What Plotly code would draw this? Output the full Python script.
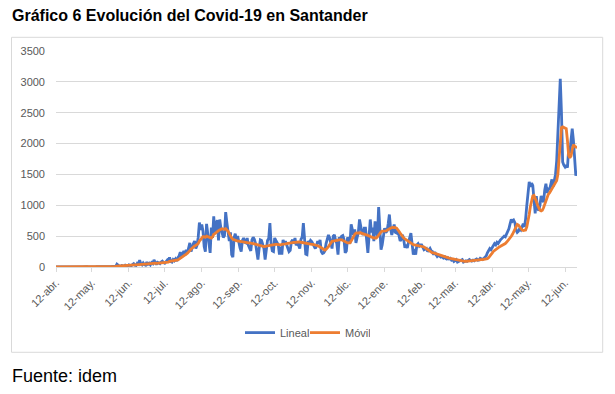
import pandas as pd
import plotly.graph_objects as go

start_date = "2020-04-12"

# Daily cases ("Lineal"), one row per week starting Sunday 12-abr-2020
lineal = [
    0, 1, 2, 0, 3, 1, 2,
    1, 0, 2, 3, 1, 4, 2,
    0, 2, 3, 1, 2, 5, 1,
    2, 1, 4, 3, 2, 6, 3,
    1, 3, 2, 5, 4, 2, 6,
    3, 2, 5, 4, 7, 3, 5,
    4, 6, 3, 8, 5, 10, 6,
    12, 8, 45, 20, 14, 10, 25,
    18, 12, 30, 22, 15, 35, 28,
    20, 40, 55, 30, 25, 60, 45,
    110, 50, 35, 65, 40, 30, 80,
    45, 60, 35, 70, 55, 115, 60,
    40, 75, 65, 55, 80, 95, 70,
    60, 85, 110, 75, 155, 90, 80,
    120, 100, 130, 95, 150, 180, 240,
    170, 210, 260, 190, 280, 230, 300,
    390, 250, 330, 380, 420, 300, 350,
    480, 720, 600, 690, 580, 330, 250,
    700, 520, 450, 230, 640, 470, 820,
    560, 690, 760, 430, 770, 630, 560,
    480, 510, 890, 720, 590, 420, 560,
    200, 160, 470, 540, 420, 500, 380,
    310, 250, 430, 470, 400, 390, 470,
    350, 300, 260, 440, 480, 450, 380,
    250, 120, 300, 440, 430, 380, 300,
    120, 280, 430, 460, 710, 380, 260,
    250, 470, 430, 400, 360, 200, 330,
    200, 440, 380, 420, 360, 300, 250,
    270, 410, 440, 380, 470, 350, 400,
    330, 300, 450, 480, 710, 400, 210,
    200, 420, 390, 430, 410, 380, 330,
    300, 340, 420, 380, 440, 250, 220,
    230, 260, 380, 440, 520, 470, 400,
    300, 500, 520, 430, 380, 200, 480,
    450, 500, 510, 450, 230, 260, 480,
    420, 380, 690, 600, 520, 610, 390,
    480, 560, 770, 630, 560, 520, 630,
    630, 420, 230, 500, 770, 560, 640,
    420, 740, 600, 500, 970, 600, 280,
    360, 520, 630, 560, 580, 700, 850,
    620, 520, 600, 690, 560, 550, 600,
    470, 420, 450, 520, 440, 310, 360,
    310, 400, 470, 550, 380, 200, 290,
    200, 360, 380, 340, 360, 360, 320,
    280, 290, 300, 250, 270, 300, 260,
    250, 200, 240, 200, 170, 190, 180,
    160, 170, 150, 180, 140, 130, 150,
    130, 140, 110, 120, 90, 110, 120,
    80, 90, 100, 110, 120, 80, 95,
    100, 90, 110, 120, 105, 95, 110,
    100, 120, 130, 110, 115, 140, 130,
    120, 140, 160, 180, 230, 260, 300,
    280, 320, 340, 380, 360, 400, 380,
    420, 440, 460, 480, 500, 490, 540,
    560, 620, 700, 770, 740, 760, 720,
    600, 560, 580, 620, 600, 650, 700,
    650, 780, 1000, 1250, 1380, 1300, 1360,
    1320, 1100, 870, 1150, 940, 920, 1000,
    1150, 1080, 1050, 1250, 1350, 1200, 1280,
    1250, 1360, 1420, 1300, 1400, 1500, 1720,
    2100, 2700, 3050, 2500, 1700, 1650, 1620,
    1650, 1610, 1900, 1850, 2050, 2240, 2050,
    1800, 1480, 1560,
]

# Moving-average series ("Móvil")
movil = [
    0, 0, 1, 1, 1, 1, 1,
    1, 1, 2, 2, 2, 2, 2,
    2, 2, 2, 2, 2, 2, 2,
    2, 3, 3, 3, 3, 3, 3,
    3, 3, 3, 3, 3, 3, 4,
    4, 4, 4, 4, 4, 5, 5,
    5, 5, 5, 6, 6, 6, 7,
    8, 9, 14, 16, 17, 18, 19,
    20, 19, 22, 22, 23, 24, 26,
    27, 30, 33, 34, 35, 38, 40,
    48, 48, 47, 48, 48, 47, 50,
    52, 55, 54, 56, 58, 62, 62,
    60, 62, 62, 60, 62, 66, 68,
    70, 72, 78, 80, 90, 92, 93,
    95, 100, 105, 110, 115, 128, 140,
    150, 165, 180, 195, 210, 225, 240,
    265, 290, 310, 320, 340, 350, 360,
    380, 420, 440, 470, 490, 490, 480,
    500, 495, 490, 475, 470, 490, 530,
    540, 560, 580, 590, 600, 610, 620,
    615, 610, 620, 600, 580, 540, 500,
    470, 450, 440, 430, 425, 420, 420,
    415, 410, 405, 400, 400, 395, 395,
    390, 390, 390, 385, 380, 375, 370,
    360, 350, 345, 340, 335, 330, 330,
    335, 335, 340, 345, 350, 355, 360,
    360, 360, 365, 365, 360, 360, 360,
    365, 365, 370, 375, 380, 385, 385,
    390, 390, 395, 400, 400, 405, 405,
    405, 405, 400, 400, 395, 390, 385,
    380, 375, 370, 370, 365, 365, 362,
    360, 355, 345, 335, 320, 305, 290,
    280, 275, 285, 300, 330, 360, 390,
    416, 420, 425, 430, 435, 440, 443,
    443, 440, 430, 420, 405, 395, 390,
    390, 390, 420, 460, 500, 530, 550,
    552, 555, 560, 555, 545, 535, 530,
    525, 520, 510, 500, 490, 480, 475,
    470, 470, 470, 490, 520, 550, 570,
    580, 578, 578, 585, 595, 610, 625,
    635, 640, 643, 643, 640, 630, 610,
    580, 550, 520, 495, 470, 455, 440,
    425, 410, 395, 380, 370, 362, 360,
    355, 350, 348, 345, 342, 340, 335,
    325, 310, 295, 280, 265, 250, 240,
    230, 227, 220, 212, 205, 198, 190,
    182, 176, 172, 168, 162, 156, 150,
    145, 140, 135, 132, 130, 126, 120,
    115, 110, 105, 100, 96, 93, 91,
    92, 95, 98, 100, 102, 104, 106,
    107, 108, 110, 112, 114, 116, 118,
    120, 122, 125, 128, 135, 150, 170,
    200, 225, 253, 270, 285, 300, 315,
    325, 335, 345, 355, 362, 380, 400,
    420, 450, 475, 497, 530, 570, 620,
    670, 690, 680, 650, 620, 600, 590,
    590, 600, 650, 740, 850, 980, 1080,
    1150, 1160, 1120, 1060, 1000, 950, 920,
    910, 920, 960, 1020, 1080, 1140, 1180,
    1200, 1230, 1260, 1300, 1330, 1360, 1400,
    1500, 1780, 2050, 2260, 2270, 2260, 2250,
    2240, 2050, 1810, 1770, 1800, 1900, 1980,
    1960, 1940, 1930,
]

tick_dates = ["2020-04-12", "2020-05-12", "2020-06-12", "2020-07-12", "2020-08-12",
              "2020-09-12", "2020-10-12", "2020-11-12", "2020-12-12", "2021-01-12",
              "2021-02-12", "2021-03-12", "2021-04-12", "2021-05-12", "2021-06-12"]
tick_labels = ["12-abr.", "12-may.", "12-jun.", "12-jul.", "12-ago.", "12-sep.", "12-oct.",
               "12-nov.", "12-dic.", "12-ene.", "12-feb.", "12-mar.", "12-abr.", "12-may.",
               "12-jun."]
y_ticks = [0, 500, 1000, 1500, 2000, 2500, 3000, 3500]

dates = pd.date_range(start_date, periods=len(lineal), freq="D")

FONT = "Liberation Sans, Arial, sans-serif"
GRAY = "#595959"
GRID = "#D9D9D9"

fig = go.Figure()
fig.add_trace(go.Scatter(x=dates, y=lineal, mode="lines", name="Lineal",
                         line=dict(color="#4472C4", width=2.8)))
fig.add_trace(go.Scatter(x=dates, y=movil, mode="lines", name="Móvil",
                         line=dict(color="#ED7D31", width=2.8)))

# The page body adds an 8px offset, so the figure is laid out in shifted pixels
OFF = 8
W, H = 615 - OFF, 394 - OFF
L, R, T, B = 56 - OFF, 577 - OFF, 51 - OFF, 267.3 - OFF
pw, ph = R - L, B - T

def px_x(p):
    return (p - OFF - L) / pw

def px_y(p):
    return (B - (p - OFF)) / ph

fig.update_layout(
    width=W, height=H,
    margin=dict(l=L, r=W - R, t=T, b=H - B, pad=0),
    paper_bgcolor="white", plot_bgcolor="white",
    font=dict(family=FONT, size=11, color=GRAY),
    showlegend=True,
    legend=dict(orientation="h", x=px_x(305), xanchor="center", y=px_y(333), yanchor="middle",
                entrywidth=20, entrywidthmode="pixels",
                font=dict(size=11, color=GRAY), bgcolor="rgba(0,0,0,0)"),
    xaxis=dict(type="date", range=[dates[0], dates[-1]], tickvals=tick_dates, ticktext=tick_labels,
               tickangle=-45, showgrid=False, showline=True, linecolor=GRID, linewidth=1,
               ticks="outside", ticklen=4, tickcolor=GRID, zeroline=False,
               tickfont=dict(size=11, color=GRAY, family=FONT)),
    yaxis=dict(range=[0, 3500], tickvals=y_ticks, showgrid=True, gridcolor=GRID, gridwidth=1,
               zeroline=False, showline=False, ticks="", ticklabelstandoff=10,
               tickfont=dict(size=11, color=GRAY, family=FONT)),
    shapes=[dict(type="rect", xref="paper", yref="paper",
                 x0=px_x(11.5), x1=px_x(602.7), y0=px_y(352.7), y1=px_y(37.3),
                 line=dict(color=GRID, width=1), fillcolor="rgba(0,0,0,0)", layer="below")],
    annotations=[
        dict(text="<b>Gráfico 6 Evolución del Covid-19 en Santander</b>", xref="paper", yref="paper",
             x=px_x(10), y=px_y(15), xanchor="left", yanchor="middle", showarrow=False,
             font=dict(size=16, color="black", family=FONT)),
        dict(text="Fuente: idem", xref="paper", yref="paper",
             x=px_x(10), y=px_y(376), xanchor="left", yanchor="middle", showarrow=False,
             font=dict(size=18, color="black", family=FONT)),
    ],
)

fig.write_html("out.html")
